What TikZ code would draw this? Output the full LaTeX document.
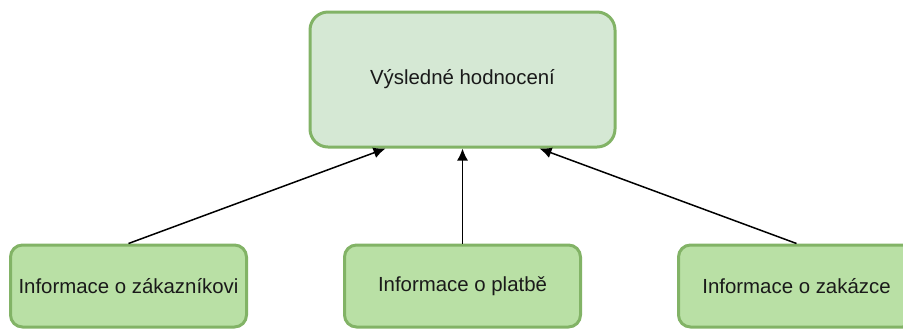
\documentclass[tikz,border=0pt]{standalone}
\usepackage{fontspec}
\setmainfont{Liberation Sans}
\usepackage{tikz}
\usetikzlibrary{calc,arrows.meta}
\definecolor{boxline}{HTML}{82B366}
\definecolor{topfill}{HTML}{D5E8D4}
\definecolor{infofill}{HTML}{B9E0A5}
\definecolor{txt}{HTML}{1A1A1A}

\begin{document}
\begin{tikzpicture}[x=0.5pt,y=-0.5pt,>={Latex[length=6pt,width=5.5pt]},
  result/.style={draw=boxline,fill=topfill,line width=1.5pt,rounded corners=9pt,
    minimum width=152.5pt,minimum height=67.5pt,text=txt,font=\fontsize{10.2}{12}\selectfont},
  info/.style={draw=boxline,fill=infofill,line width=1.5pt,rounded corners=6pt,
    minimum width=118pt,minimum height=41pt,inner sep=0pt,text=txt,font=\fontsize{10.2}{12}\selectfont}]
\useasboundingbox (0,0) rectangle (903,329);
\node(0) at (462.5,79.5)[result] {Výsledné hodnocení};
\node(1) at (128.5,286)[info] {Informace o zákazníkovi};
\node(2) at (462.5,286)[info] {Informace o platbě};
\node(3) at (796.5,286)[info] {Informace o zakázce};
\path[->,line width=0.75pt] (1.north) edge ($(0.south west)!.25!(0.south east)$);
\path[->,line width=0.75pt] (2.north) edge (0.south);
\path[->,line width=0.75pt] (3.north) edge ($(0.south west)!.75!(0.south east)$);
\end{tikzpicture}
\end{document}
